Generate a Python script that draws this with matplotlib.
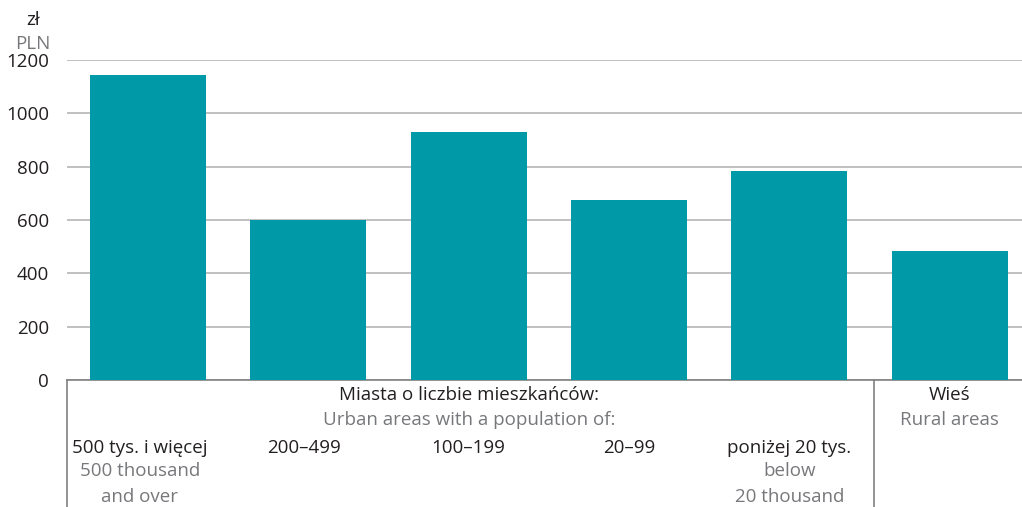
import matplotlib.pyplot as plt

# dane
kategorie = ["500 tys. i więcej", "200–499", "100–199", "20–99", "poniżej 20 tys.", "Wieś"]
kategorie_en = ["500 thousand\nand over", "", "", "", "below\n20 thousand", "Rural areas"]
wartosci = [1145, 600, 930, 675, 783, 483]
yticks = [0, 200, 400, 600, 800, 1000, 1200]

TEAL = "#0099a8"
CZARNY = "#231f20"
SZARY = "#77787b"
FS = 13.5

plt.rcParams['font.family'] = ['Open Sans', 'DejaVu Sans']

fig = plt.figure(figsize=(10.22, 5.07), dpi=100)
H = 507.0
ax = fig.add_axes([67 / 1022, 1 - 380 / H, 1 - 67 / 1022, 320 / H])

x = list(range(len(wartosci)))
ax.bar(x, wartosci, width=0.723, color=TEAL, zorder=3)

ax.set_xlim(-0.505, 5.45)
ax.set_ylim(0, 1200)
ax.set_yticks(yticks)
ax.set_yticklabels([str(v) for v in yticks], fontsize=FS, color=CZARNY)
ax.tick_params(axis='y', length=0, pad=13)
ax.set_xticks([])
for s in ['top', 'right', 'left']:
    ax.spines[s].set_visible(False)
ax.spines['bottom'].set_color('#808080')
ax.spines['bottom'].set_linewidth(1.2)
ax.grid(axis='y', color='#b5b5b5', linewidth=1.2, zorder=0)
ax.set_axisbelow(True)

# jednostki
fig.text(33 / 1022, 1 - 20 / H, "zł", ha='center', va='center', fontsize=FS, color=CZARNY)
fig.text(33 / 1022, 1 - 44 / H, "PLN", ha='center', va='center', fontsize=FS, color=SZARY)

# linie pod osią
tr = ax.get_xaxis_transform()
dol = -(507 - 380) / 320
ax.plot([-0.505, -0.505], [0, dol], transform=tr, color='#808080', lw=1.2, clip_on=False)
ax.plot([4.53, 4.53], [0, dol], transform=tr, color='#808080', lw=1.2, clip_on=False)

def py(p):
    return (380 - p) / 320

ax.text(2.0, py(395), "Miasta o liczbie mieszkańców:", transform=tr, ha='center', va='center',
        fontsize=FS, color=CZARNY)
ax.text(2.0, py(420), "Urban areas with a population of:", transform=tr, ha='center', va='center',
        fontsize=FS, color=SZARY)
ax.text(5.0, py(395), "Wieś", transform=tr, ha='center', va='center', fontsize=FS, color=CZARNY)
ax.text(5.0, py(420), kategorie_en[5], transform=tr, ha='center', va='center', fontsize=FS, color=SZARY)

xs_lab = [-0.05, 0.97, 2.0, 3.0, 4.0]
for i in range(5):
    ax.text(xs_lab[i], py(448), kategorie[i], transform=tr, ha='center', va='center',
            fontsize=FS, color=CZARNY)
    if kategorie_en[i]:
        ax.text(xs_lab[i], py(462), kategorie_en[i], transform=tr, ha='center', va='top',
                fontsize=FS, color=SZARY, linespacing=1.55)

fig.savefig("out.png", dpi=100)
